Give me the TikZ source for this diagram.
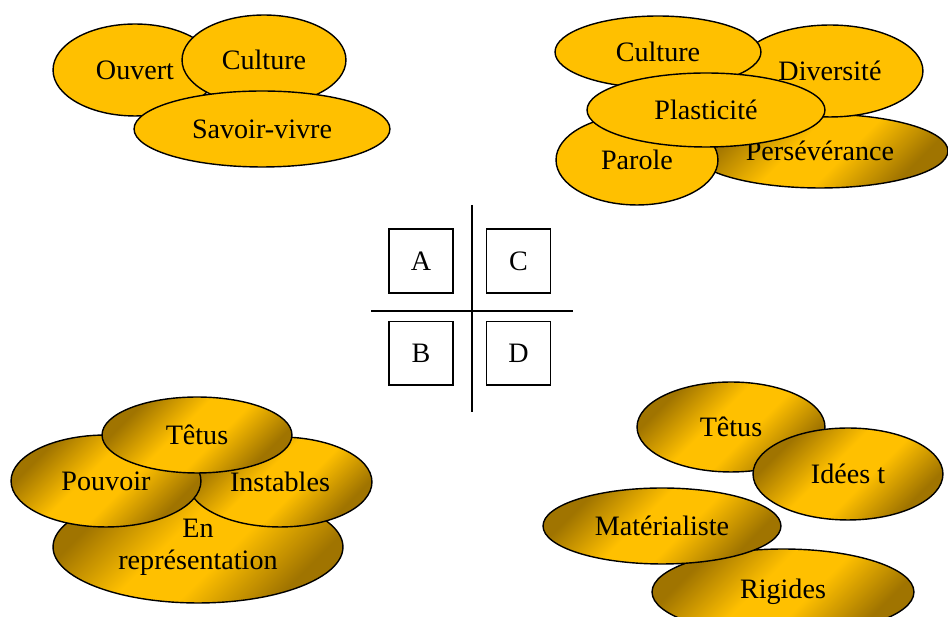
\documentclass[tikz,border=0pt]{standalone}
\usepackage{fontspec}
\setmainfont{Liberation Serif}
\usetikzlibrary{shapes.geometric}
\usetikzlibrary{positioning}

\definecolor{gold}{RGB}{255,192,0}
\definecolor{golddark}{RGB}{160,116,0}
\pgfdeclareverticalshading{goldshade}{100bp}{color(0bp)=(golddark); color(27bp)=(golddark); color(44bp)=(gold); color(56bp)=(gold); color(73bp)=(golddark); color(100bp)=(golddark)}

\tikzset{
    bubble/.style 2 args={ % #1 = rx, #2 = ry (en px)
        ellipse, draw=black, line width=0.8pt, inner sep=0pt,
        minimum width=#1*0.04cm, minimum height=#2*0.04cm,
        text=black, align=center
    },
    goldflat/.style={fill=gold},
    goldshaded/.style={shade, shading=goldshade, shading angle=45},
    letterbox/.style={
        draw, line width=0.9pt, inner sep=0pt,
        minimum width=1.28cm, minimum height=1.27cm
    }
}

\begin{document}
\begin{tikzpicture}[
    x=0.02cm, y=-0.02cm,
    font=\fontsize{16}{18}\selectfont,
    axis/.style={line width=1.1pt},
]
\useasboundingbox (0,0) rectangle (948,617);

% ===============================
%        Groupe haut gauche
% ===============================

\node[bubble={82}{46}, goldflat] (ouvert) at (135,70) {Ouvert};
\node[bubble={82}{45}, goldflat] (culture) at (264,60) {Culture};
\node[bubble={128}{38}, goldflat] (savoir) at (262,129) {Savoir-vivre};

% ===============================
%        Groupe haut droite
% ===============================

\node[bubble={128}{37}, goldshaded] (perseverance) at (820,151) {Persévérance};
\node[bubble={81}{45}, goldflat] (parole) at (637,160) {Parole};
\node[bubble={93}{46}, goldflat] (diversite) at (830,71) {Diversité};
\node[bubble={103}{36}, goldflat] (cultureC) at (658,52) {Culture};
\node[bubble={119}{37}, goldflat] (plasticite) at (706,110) {Plasticité};

% ===============================
%        Groupe bas gauche
% ===============================

\node[bubble={145}{56}, goldshaded] (representation) at (198,547)
    {En\\représentation};
\node[bubble={92}{45}, goldshaded] (instables) at (280,482) {Instables};
\node[bubble={95}{46}, goldshaded] (pouvoir) at (106,481) {Pouvoir};
\node[bubble={95}{38}, goldshaded] (tetus) at (197,435) {Têtus};

% ===============================
%        Groupe bas droite
% ===============================

\node[bubble={94}{45}, goldshaded] (tetusD) at (731,427) {Têtus};
\node[bubble={95}{46}, goldshaded] (idees) at (848,474) {Idées t};
\node[bubble={131}{43}, goldshaded] (rigides) at (783,592) {Rigides};
\node[bubble={119}{38}, goldshaded] (materialiste) at (662,526) {Matérialiste};

% ===============================
%          Croix centrale
% ===============================

\node[letterbox] (boxA) at (421,261) {A};
\node[letterbox, right=0.64cm of boxA] (boxC) {C};
\node[letterbox, below=0.54cm of boxA] (boxB) {B};
\node[letterbox, right=0.64cm of boxB] (boxD) {D};

\coordinate (axtop) at (472,205);
\coordinate (axbottom) at (472,412);
\coordinate (axleft) at (371,311);
\coordinate (axright) at (573,311);

\draw[axis] (axtop) -- (axbottom);
\draw[axis] (axleft) -- (axright);

\end{tikzpicture}
\end{document}
